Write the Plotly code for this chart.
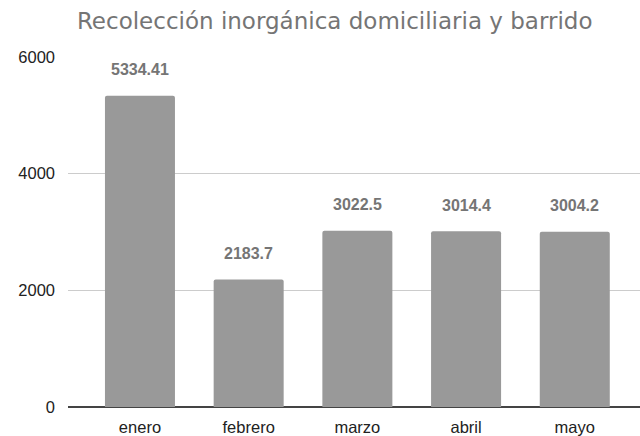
import plotly.graph_objects as go

months = ["enero", "febrero", "marzo", "abril", "mayo"]
values = [5334.41, 2183.7, 3022.5, 3014.4, 3004.2]
labels = ["5334.41", "2183.7", "3022.5", "3014.4", "3004.2"]
y_ticks = [0, 2000, 4000, 6000]

fig = go.Figure()
fig.add_trace(go.Bar(
    x=list(range(len(months))), y=values,
    marker=dict(color="#999999", cornerradius=2, line=dict(width=0)),
    width=0.644,
    hoverinfo="skip",
))
for i, (v, t) in enumerate(zip(values, labels)):
    fig.add_annotation(x=i, y=v, text="<b>" + t + "</b>", showarrow=False,
                       yshift=26, font=dict(family="Liberation Sans, Arial", size=16, color="#757575"))

fig.update_layout(
    width=640, height=436,
    margin=dict(l=68, r=0, t=57, b=29),
    paper_bgcolor="white", plot_bgcolor="white",
    showlegend=False,
    title=dict(text="Recolección inorgánica domiciliaria y barrido",
               x=0.523, xanchor="center", y=0.952, yanchor="middle",
               font=dict(family="DejaVu Sans", size=23, color="#757575")),
    xaxis=dict(tickvals=list(range(len(months))), ticktext=months,
               range=[-0.662, 4.6], showgrid=False, zeroline=False,
               showline=False, ticks="", ticklabelstandoff=8,
               tickfont=dict(family="Liberation Sans, Arial", size=16.5, color="#222222")),
    yaxis=dict(tickvals=y_ticks, range=[0, 6000], showgrid=True,
               gridcolor="#cccccc", gridwidth=1, zeroline=True,
               zerolinecolor="#444444", zerolinewidth=1.5,
               ticks="", ticklabelstandoff=12,
               tickfont=dict(family="Liberation Sans, Arial", size=16.5, color="#222222")),
)
fig.write_html("out.html", config={"displayModeBar": False},
               post_script="document.body.style.margin='0';")
